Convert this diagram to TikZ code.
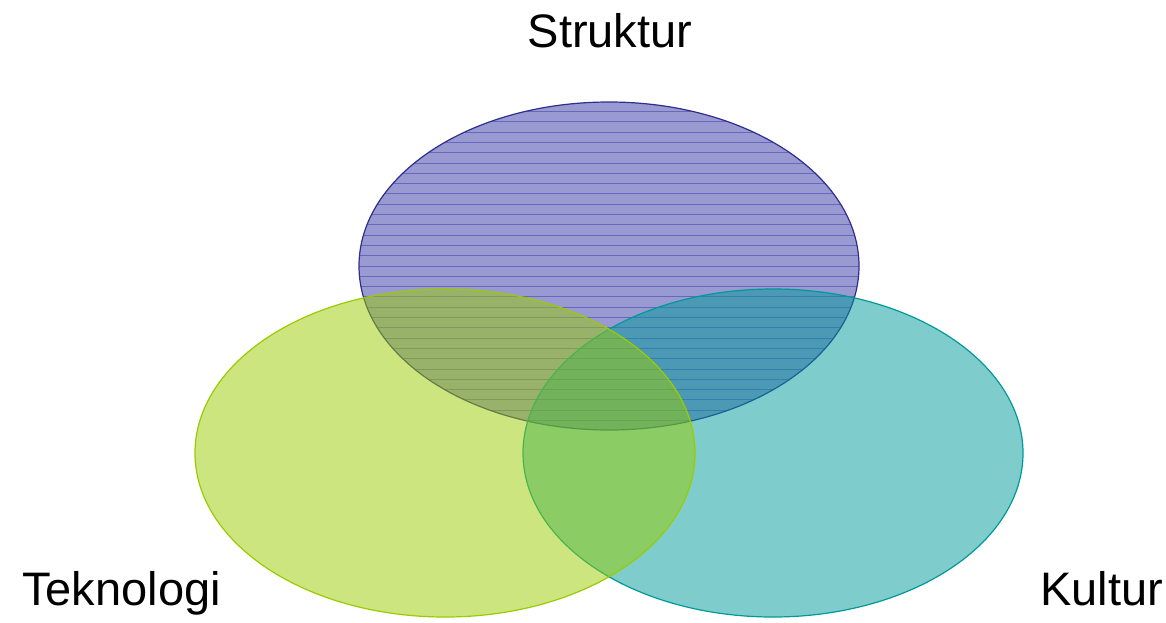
\documentclass[tikz,border=0pt]{standalone}
\usepackage{fontspec}
\setmainfont{Liberation Sans}
\definecolor{topc}{HTML}{3535A8}
\definecolor{topedge}{HTML}{2E2E8C}
\definecolor{leftc}{HTML}{99CC00}
\definecolor{rightc}{HTML}{009999}
\begin{document}
\begin{tikzpicture}[x=1pt,y=-1pt,
  lbl/.style={inner sep=0pt,font=\fontsize{47}{50}\selectfont,anchor=base},
  blob/.style={line width=1.2pt}]
\useasboundingbox (0,0) rectangle (1166,622);
% top ellipse (Struktur)
\fill[topc,fill opacity=0.5] (609,266) ellipse [x radius=250,y radius=164];
\begin{scope}
  \clip (609,266) ellipse [x radius=250,y radius=164];
  \foreach \k in {0,...,32} {
    \draw[topc,opacity=0.5,line width=1pt] (350,101.2+10.3*\k) -- (870,101.2+10.3*\k);
  }
\end{scope}
\draw[topedge,blob] (609,266) ellipse [x radius=250,y radius=164];
% right ellipse (Kultur)
\draw[rightc,fill=rightc,fill opacity=0.5,blob] (773,453) ellipse [x radius=250,y radius=164];
% left ellipse (Teknologi)
\draw[leftc,fill=leftc,fill opacity=0.5,blob] (445,453) ellipse [x radius=250,y radius=164];
% labels
\node[lbl] (struktur) at (610,47) {Struktur};
\node[lbl,anchor=base west] (teknologi) at (22,605) {Teknologi};
\node[lbl,anchor=base west] (kultur) at (1040,605) {Kultur};
\end{tikzpicture}
\end{document}
